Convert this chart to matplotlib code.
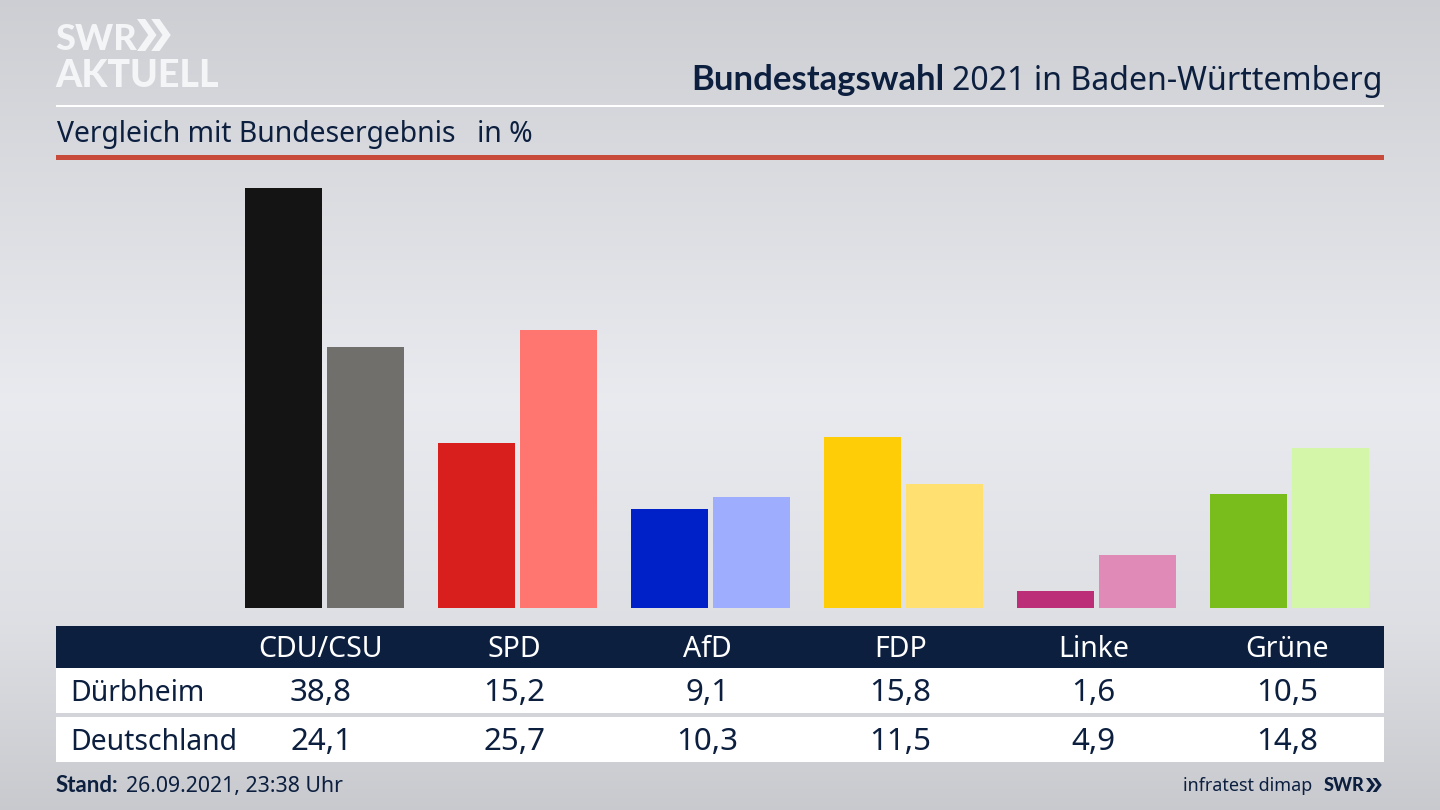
import numpy as np
import matplotlib.pyplot as plt
from matplotlib.patches import Rectangle, Polygon

plt.rcParams['font.family'] = ['Noto Sans', 'DejaVu Sans']

# Daten
parteien = ["CDU/CSU", "SPD", "AfD", "FDP", "Linke", "Grüne"]
duerbheim = [38.8, 15.2, 9.1, 15.8, 1.6, 10.5]
deutschland = [24.1, 25.7, 10.3, 11.5, 4.9, 14.8]
farben_ort = ["#141414", "#d81f1d", "#0020c8", "#ffcc08", "#bc2e78", "#78bd1c"]
farben_bund = ["#716f6c", "#ff7671", "#9fadff", "#ffe070", "#e08ab8", "#d3f6a8"]
zeilen = ["Dürbheim", "Deutschland"]

NAVY = "#0c1f3f"
BOLD = ["Lato", "DejaVu Sans"]
W, H = 1440, 810

fig = plt.figure(figsize=(14.4, 8.1), dpi=100)

# Hintergrund
bg = fig.add_axes([0, 0, 1, 1], zorder=0)
stops_y = [0, 150, 400, 620, 810]
stops_c = [205, 216, 233, 222, 200]
grad = np.interp(np.arange(H), stops_y, stops_c) / 255
img = np.stack([grad, grad + 0.006, grad + 0.024], axis=1)
bg.imshow(np.clip(img, 0, 1)[:, None, :], aspect="auto", extent=[0, W, H, 0])
bg.set_xlim(0, W)
bg.set_ylim(H, 0)
bg.axis("off")

# Balken
ax = fig.add_axes([56 / W, 1 - 608 / H, 1328 / W, 448 / H], zorder=1)
ax.patch.set_alpha(0)
x = np.arange(len(parteien))
ax.bar(x - 0.2124, duerbheim, 0.399, color=farben_ort)
ax.bar(x + 0.2124, deutschland, 0.399, color=farben_bund)
ax.set_xlim(-(324.5 - 56) / 193, (1384 - 324.5) / 193)
ax.set_ylim(0, 448 / 10.825)
ax.axis("off")

# Kopf und Tabelle
top = fig.add_axes([0, 0, 1, 1], zorder=2)
top.set_xlim(0, W)
top.set_ylim(H, 0)
top.axis("off")
top.patch.set_alpha(0)

top.add_patch(Rectangle((56, 104.5), 1328, 2.5, color="white", lw=0))
top.add_patch(Rectangle((56, 155), 1328, 5, color="#c84a3a", lw=0))
top.add_patch(Rectangle((56, 626), 1328, 42, color=NAVY, lw=0))
top.add_patch(Rectangle((56, 668), 1328, 45, color="white", lw=0))
top.add_patch(Rectangle((56, 717), 1328, 45, color="white", lw=0))

top.text(1383, 90, "2021 in Baden-Württemberg", ha="right", va="baseline",
         fontsize=23.1, color=NAVY)
top.text(944, 90, "Bundestagswahl", ha="right", va="baseline", fontsize=24.9,
         fontweight="bold", family=BOLD, color=NAVY)
top.text(57, 142, "Vergleich mit Bundesergebnis", ha="left", va="baseline",
         fontsize=20.4, color=NAVY)
top.text(477, 142, "in %", ha="left", va="baseline", fontsize=20.4, color=NAVY)

for i, p in enumerate(parteien):
    cx = 321 + i * 193.2
    top.text(cx, 657, p, ha="center", va="baseline", fontsize=20.5, color="white")
    top.text(cx, 701, f"{duerbheim[i]:.1f}".replace(".", ","), ha="center",
             va="baseline", fontsize=22.5, color=NAVY)
    top.text(cx, 750, f"{deutschland[i]:.1f}".replace(".", ","), ha="center",
             va="baseline", fontsize=22.5, color=NAVY)

top.text(70, 701, zeilen[0], ha="left", va="baseline", fontsize=20.4, color=NAVY)
top.text(70, 750, zeilen[1], ha="left", va="baseline", fontsize=20.4, color=NAVY)

# Fusszeile
top.text(56, 792, "Stand:", ha="left", va="baseline", fontsize=16,
         fontweight="bold", family=BOLD, color=NAVY)
top.text(126, 792, "26.09.2021, 23:38 Uhr", ha="left", va="baseline",
         fontsize=15.3, color=NAVY)
top.text(1312, 791, "infratest dimap", ha="right", va="baseline", fontsize=12.9,
         color=NAVY)
top.text(1324, 791, "SWR", ha="left", va="baseline", fontsize=13,
         fontweight="black", family=BOLD, color=NAVY)


def chevrons(x0, yc, h, w, col):
    # zwei Pfeilspitzen vom SWR-Logo
    for dx in (0, w * 0.95):
        top.add_patch(Polygon([(x0 + dx, yc - h / 2), (x0 + dx + w * 0.55, yc - h / 2),
                               (x0 + dx + w * 1.3, yc), (x0 + dx + w * 0.55, yc + h / 2),
                               (x0 + dx, yc + h / 2), (x0 + dx + w * 0.75, yc)],
                              closed=True, color=col, lw=0))


chevrons(1366, 785, 14, 7, NAVY)

# Logo
top.text(55, 50, "SWR", ha="left", va="baseline", fontsize=26, fontweight="black",
         family=BOLD, color="#f4f5f7")
top.text(55, 87, "AKTUELL", ha="left", va="baseline", fontsize=27, fontweight="black",
         family=BOLD, color="#f4f5f7")
chevrons(137, 35, 32, 15, "#f4f5f7")

fig.savefig("out.png", dpi=100)
